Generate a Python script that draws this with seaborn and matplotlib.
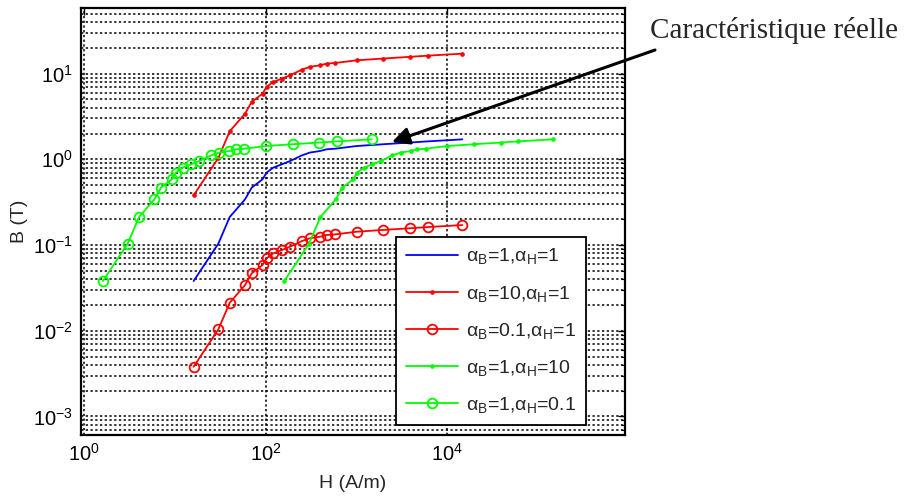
import matplotlib
matplotlib.use("Agg")
import matplotlib.pyplot as plt
import matplotlib.ticker as mticker
import seaborn as sns
import pandas as pd

# ---- data ----
H_a = [16, 30, 40, 59, 70, 92, 102, 121, 150, 185, 249, 307, 396, 469, 579, 1005, 1975, 3890, 6100, 14700]
B_a = [0.038, 0.104, 0.212, 0.341, 0.468, 0.584, 0.70, 0.80, 0.874, 0.955, 1.11, 1.20, 1.25, 1.31, 1.33, 1.43, 1.50, 1.57, 1.62, 1.71]

H_b = [16, 30, 40, 59, 70, 92, 102, 121, 150, 185, 249, 307, 396, 469, 579, 1005, 1975, 3890, 6100, 14700]
B_b = [0.38, 1.04, 2.12, 3.41, 4.68, 5.84, 7.0, 8.0, 8.74, 9.55, 11.1, 12.0, 12.5, 13.1, 13.3, 14.3, 15.0, 15.7, 16.2, 17.1]

H_c = [16, 30, 40, 59, 70, 92, 102, 121, 150, 185, 249, 307, 396, 469, 579, 1005, 1975, 3890, 6100, 14700]
B_c = [0.0038, 0.0104, 0.0212, 0.0341, 0.0468, 0.0584, 0.070, 0.080, 0.0874, 0.0955, 0.111, 0.120, 0.125, 0.131, 0.133, 0.143, 0.150, 0.157, 0.162, 0.171]

H_d = [160, 300, 400, 590, 700, 920, 1020, 1210, 1500, 1850, 2490, 3070, 3960, 4690, 5790, 10050, 19750, 38900, 61000, 147000]
B_d = [0.038, 0.104, 0.212, 0.341, 0.468, 0.584, 0.70, 0.80, 0.874, 0.955, 1.11, 1.20, 1.25, 1.31, 1.33, 1.43, 1.50, 1.57, 1.62, 1.71]

H_e = [1.6, 3.0, 4.0, 5.9, 7.0, 9.2, 10.2, 12.1, 15.0, 18.5, 24.9, 30.7, 39.6, 46.9, 57.9, 100.5, 197.5, 389, 610, 1470]
B_e = [0.038, 0.104, 0.212, 0.341, 0.468, 0.584, 0.70, 0.80, 0.874, 0.955, 1.11, 1.20, 1.25, 1.31, 1.33, 1.43, 1.50, 1.57, 1.62, 1.71]

labels = [
    "α$_{B}$=1,α$_{H}$=1",
    "α$_{B}$=10,α$_{H}$=1",
    "α$_{B}$=0.1,α$_{H}$=1",
    "α$_{B}$=1,α$_{H}$=10",
    "α$_{B}$=1,α$_{H}$=0.1",
]
x_ticks = [1, 1e2, 1e4]
y_ticks = [1e-3, 1e-2, 1e-1, 1e0, 1e1]
xlabel = "H (A/m)"
ylabel = "B (T)"
annot_text = "Caractéristique réelle"

# ---- style ----
sns.set_theme(style="white")
plt.rcParams["font.family"] = ["Liberation Sans", "DejaVu Sans"]
plt.rcParams["mathtext.fontset"] = "custom"
plt.rcParams["mathtext.rm"] = "Liberation Sans"
plt.rcParams["mathtext.default"] = "regular"
plt.rcParams["axes.unicode_minus"] = False

fig = plt.figure(figsize=(9.08, 4.97), dpi=100)
ax = fig.add_axes([0.0892, 0.1247, 0.5991, 0.8592])
ax.set_xscale("log")
ax.set_yscale("log")

series = [
    (H_a, B_a, "#0000ff", None, labels[0]),
    (H_b, B_b, "#ff0000", ".", labels[1]),
    (H_c, B_c, "#ff0000", "o", labels[2]),
    (H_d, B_d, "#00ff00", ".", labels[3]),
    (H_e, B_e, "#00ff00", "o", labels[4]),
]
for H, B, col, mk, lab in series:
    df = pd.DataFrame({"H": H, "B": B})
    kw = dict(color=col, linewidth=1.3, label=lab, estimator=None, sort=False)
    if mk == "o":
        kw.update(marker="o", markersize=7, markerfacecolor="none",
                  markeredgecolor=col, markeredgewidth=1.3)
    elif mk == ".":
        kw.update(marker=".", markersize=5, markerfacecolor=col,
                  markeredgecolor=col, markeredgewidth=0.8)
    sns.lineplot(data=df, x="H", y="B", ax=ax, **kw)

ax.set_xlim(0.917, 9.13e5)
ax.set_ylim(6.07e-4, 58.3)

ax.xaxis.set_major_locator(mticker.FixedLocator(x_ticks))
ax.xaxis.set_minor_locator(mticker.NullLocator())
ax.xaxis.set_major_formatter(mticker.LogFormatterMathtext())
ax.yaxis.set_major_locator(mticker.FixedLocator(y_ticks))
ax.yaxis.set_minor_locator(mticker.LogLocator(base=10, subs=[2, 3, 4, 5, 6, 7, 8, 9], numticks=20))
ax.yaxis.set_major_formatter(mticker.LogFormatterMathtext())
ax.yaxis.set_minor_formatter(mticker.NullFormatter())

grid_kw = dict(color="black", linestyle=(0, (1.5, 1.6)), linewidth=1.1)
ax.grid(True, which="major", axis="both", **grid_kw)
ax.grid(True, which="minor", axis="y", **grid_kw)
ax.set_axisbelow(True)

ax.tick_params(which="both", direction="in", top=True, right=True, colors="black")
ax.tick_params(which="major", length=5, width=1.0, labelsize=14.5, pad=6)
ax.tick_params(which="minor", length=3, width=0.8)
for s in ax.spines.values():
    s.set_color("black")
    s.set_linewidth(1.6)

ax.set_xlabel(xlabel, fontsize=14, labelpad=7)
ax.set_ylabel(ylabel, fontsize=14, labelpad=3)

leg = ax.legend(loc="upper left", bbox_to_anchor=(396 / 908, 1 - 236.7 / 497),
                bbox_transform=fig.transFigure, borderaxespad=0, fontsize=14,
                frameon=True, fancybox=False, framealpha=1, edgecolor="black",
                handlelength=2.7, handletextpad=0.4, labelspacing=0.88,
                borderpad=0.5)
leg.get_frame().set_linewidth(1.3)

ax.annotate("", xy=(2460, 1.59), xycoords="data",
            xytext=(655 / 908, 1 - 50 / 497), textcoords="figure fraction",
            arrowprops=dict(arrowstyle="-|>", color="black", lw=2.2,
                            mutation_scale=26, shrinkA=0, shrinkB=0),
            annotation_clip=False)
fig.text(650 / 908, 1 - 38 / 497, annot_text, fontsize=21,
         family=["Liberation Serif", "DejaVu Serif"], ha="left", va="baseline")

fig.savefig("out.png", dpi=100)
